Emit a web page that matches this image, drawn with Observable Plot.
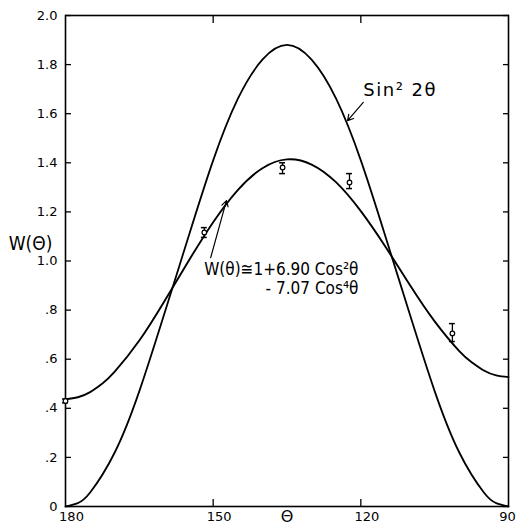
<!DOCTYPE html>
<html>
<head>
<meta charset="utf-8">
<script src="https://cdn.jsdelivr.net/npm/d3@7"></script>
<script src="https://cdn.jsdelivr.net/npm/@observablehq/plot@0.6"></script>
<style>
  html, body { margin: 0; padding: 0; background: white; }
</style>
</head>
<body>
<div id="chart"></div>
<script>
// Sin^2 2θ curve (as drawn, peak ~1.88)
const sinTheta = [180, 177.5, 175, 170, 165, 160, 155, 150, 145, 140, 135, 130, 125, 120, 115, 110, 105, 100, 95, 92.5, 90];
const sinCurve = [0, 0.014, 0.057, 0.22, 0.47, 0.78, 1.10, 1.41, 1.66, 1.82, 1.88, 1.82, 1.66, 1.41, 1.10, 0.78, 0.47, 0.22, 0.057, 0.014, 0];
// W(θ) fitted curve
const wTheta = [180, 177.5, 175, 172.5, 170, 165, 160, 155, 150, 145, 140, 135, 130, 125, 120, 115, 110, 105, 100, 97.5, 95, 92.5, 90];
const wCurve = [0.437, 0.445, 0.466, 0.501, 0.549, 0.676, 0.833, 1.000, 1.158, 1.289, 1.378, 1.414, 1.393, 1.320, 1.203, 1.058, 0.901, 0.754, 0.633, 0.588, 0.554, 0.534, 0.527];

// Measured points with error bars
const pointTheta = [180, 151.8, 135.9, 122.3, 101.4];
const pointW     = [0.43, 1.116, 1.381, 1.32, 0.705];
const errLow     = [0.422, 1.096, 1.356, 1.295, 0.672];
const errHigh    = [0.438, 1.136, 1.40, 1.356, 0.745];

// Tick values and labels
const xTickValues = [180, 150, 120];
const xTickLabels = ["180", "150", "120"];
const xEndTick = [90];
const xEndLabel = "90";
const xInnerTicks = [150, 120];
const yTickValues = [0, 0.2, 0.4, 0.6, 0.8, 1.0, 1.2, 1.4, 1.6, 1.8, 2.0];
const yTickLabels = ["0", ".2", ".4", ".6", ".8", "1.0", "1.2", "1.4", "1.6", "1.8", "2.0"];

// Annotation texts
const sinLabel = "Sin² 2θ";
const wLabel1 = "W(θ)≅1+6.90 Cos²θ";
const wLabel2 = "- 7.07 Cos⁴θ";
const yTitle = "W(Θ)";
const xTitle = "Θ";

const curveSin = sinTheta.map((t, i) => ({theta: t, v: sinCurve[i]}));
const curveW = wTheta.map((t, i) => ({theta: t, v: wCurve[i]}));
const points = pointTheta.map((t, i) => ({theta: t, w: pointW[i], lo: errLow[i], hi: errHigh[i]}));

const xLabelMap = new Map(xTickValues.map((v, i) => [v, xTickLabels[i]]));
const yLabelMap = new Map(yTickValues.map((v, i) => [v, yTickLabels[i]]));
const blank = () => "";

const chart = Plot.plot({
  width: 516,
  height: 527,
  marginLeft: 65,
  marginRight: 8,
  marginTop: 15,
  marginBottom: 21,
  style: {fontFamily: "DejaVu Sans", fontSize: "13px", color: "black", background: "white"},
  x: {domain: [180, 90]},
  y: {domain: [0, 2]},
  marks: [
    Plot.frame({stroke: "black", strokeWidth: 1.6}),
    // tick labels
    Plot.axisX({anchor: "bottom", ticks: xTickValues, tickFormat: d => xLabelMap.get(d), tickSize: 0, tickPadding: 5, dx: 6, label: null, fontSize: 13}),
    Plot.axisX({anchor: "bottom", ticks: xEndTick, tickFormat: () => xEndLabel, tickSize: 0, tickPadding: 5, dx: -1, label: null, fontSize: 13}),
    Plot.axisY({anchor: "left", ticks: yTickValues, tickFormat: d => yLabelMap.get(d), tickSize: 0, tickPadding: 8, label: null, fontSize: 13}),
    // inward ticks
    Plot.axisX({anchor: "bottom", ticks: xInnerTicks, tickFormat: blank, tickSize: 7, dy: -7, label: null, strokeWidth: 1.3}),
    Plot.axisX({anchor: "top", ticks: xInnerTicks, tickFormat: blank, tickSize: 7, dy: 7, label: null, strokeWidth: 1.3}),
    Plot.axisY({anchor: "left", ticks: yTickValues, tickFormat: blank, tickSize: 6, dx: 6, label: null, strokeWidth: 1.3}),
    Plot.axisY({anchor: "right", ticks: yTickValues, tickFormat: blank, tickSize: 6, dx: -6, label: null, strokeWidth: 1.3}),
    // curves
    Plot.line(curveSin, {x: "theta", y: "v", curve: "natural", stroke: "black", strokeWidth: 1.8}),
    Plot.line(curveW, {x: "theta", y: "v", curve: "natural", stroke: "black", strokeWidth: 1.9}),
    // error bars
    Plot.ruleX(points, {x: "theta", y1: "lo", y2: "hi", stroke: "black", strokeWidth: 1.3}),
    Plot.ruleY(points, {y: "lo", x1: d => d.theta + 0.6, x2: d => d.theta - 0.6, stroke: "black", strokeWidth: 1.5}),
    Plot.ruleY(points, {y: "hi", x1: d => d.theta + 0.6, x2: d => d.theta - 0.6, stroke: "black", strokeWidth: 1.5}),
    Plot.dot(points, {x: "theta", y: "w", r: 2.3, stroke: "black", fill: "white", strokeWidth: 1.2}),
    // annotations
    Plot.text([sinLabel], {x: 119.5, y: 1.695, text: d => d, textAnchor: "start", fontSize: 18, fontFamily: "DejaVu Sans", className: "spaced"}),
    Plot.arrow([0], {x1: 119.5, y1: 1.646, x2: 122.7, y2: 1.572, stroke: "black", strokeWidth: 1.2, headLength: 8}),
    Plot.text([wLabel1], {x: 120.5, y: 0.967, text: d => d, textAnchor: "end", fontSize: 17, fontFamily: "DejaVu Sans Condensed"}),
    Plot.text([wLabel2], {x: 120.5, y: 0.886, text: d => d, textAnchor: "end", fontSize: 17, fontFamily: "DejaVu Sans Condensed"}),
    Plot.arrow([0], {x1: 150.5, y1: 1.014, x2: 147.3, y2: 1.246, stroke: "black", strokeWidth: 1.2, headLength: 8}),
    // axis titles
    Plot.text([yTitle], {frameAnchor: "left", textAnchor: "middle", dx: -35, dy: -17, text: d => d, fontSize: 19, fontFamily: "DejaVu Sans Condensed"}),
    Plot.text([xTitle], {frameAnchor: "bottom", textAnchor: "middle", lineAnchor: "top", dy: 4, text: d => d, fontSize: 16, fontFamily: "DejaVu Sans"})
  ]
});
d3.select(chart).selectAll(".spaced text").attr("letter-spacing", "1.5px");
document.getElementById("chart").appendChild(chart);
</script>
</body>
</html>
